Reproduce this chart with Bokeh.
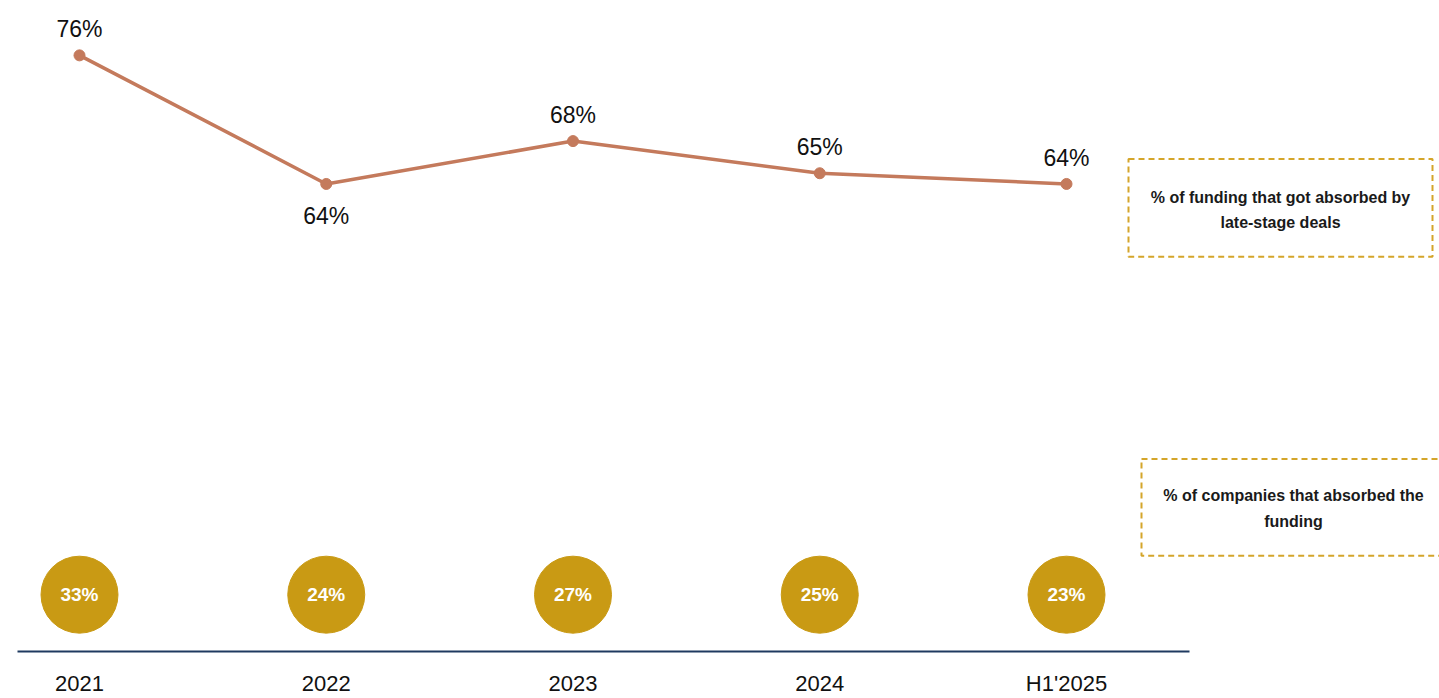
from bokeh.plotting import figure
from bokeh.models import Range1d, LinearAxis, FixedTicker, ColumnDataSource
from bokeh.core.properties import value
from bokeh.embed import file_html
from bokeh.resources import INLINE

# ---- data ----
categories = ["2021", "2022", "2023", "2024", "H1'2025"]
late_stage_funding_share = [76, 64, 68, 65, 64]
companies_share = [33, 24, 27, 25, 23]
label_side = ["above", "below", "above", "above", "above"]
note_texts = ["% of funding that got absorbed by\nlate-stage deals",
              "% of companies that absorbed the\nfunding"]

# ---- style ----
LINE_C = "#c47a5c"
GOLD = "#c99a14"
BOX_C = "#d4a52a"
FONT = value("Liberation Sans")

W, H = 1439, 698
FRAME_H = 653
STEP = 246.75
X0 = 79.0

xs = list(range(len(categories)))

p = figure(width=W, height=H, output_backend="svg", toolbar_location=None,
           x_range=Range1d(-X0 / STEP, (W - X0) / STEP),
           y_range=Range1d(20.37, 81.12),
           x_axis_location=None, y_axis_location=None,
           min_border_left=0, min_border_right=0, min_border_top=0,
           min_border_bottom=H - FRAME_H)
p.outline_line_color = None
p.grid.grid_line_color = None
p.background_fill_color = "white"
p.border_fill_color = "white"

p.extra_x_ranges = {"px": Range1d(0, W)}
p.extra_y_ranges = {"pix": Range1d(FRAME_H, 0)}

ax = LinearAxis(ticker=FixedTicker(ticks=xs),
                major_label_overrides={i: c for i, c in enumerate(categories)},
                bounds=(-0.25, 4.5),
                axis_line_color="#1f3a60", axis_line_width=2,
                major_tick_line_color=None, minor_tick_line_color=None,
                major_tick_in=0, major_tick_out=0,
                minor_tick_in=0, minor_tick_out=0,
                major_label_standoff=19,
                major_label_text_font="Liberation Sans",
                major_label_text_font_size="22px",
                major_label_text_color="#111111")
p.add_layout(ax, "below")

# line series
p.line(xs, late_stage_funding_share, line_color=LINE_C, line_width=3.5)
p.scatter(xs, late_stage_funding_share, size=11, fill_color=LINE_C, line_color=LINE_C)

above = ColumnDataSource(dict(
    x=[x for x, s in zip(xs, label_side) if s == "above"],
    y=[v for v, s in zip(late_stage_funding_share, label_side) if s == "above"],
    t=[f"{v}%" for v, s in zip(late_stage_funding_share, label_side) if s == "above"]))
below = ColumnDataSource(dict(
    x=[x for x, s in zip(xs, label_side) if s == "below"],
    y=[v for v, s in zip(late_stage_funding_share, label_side) if s == "below"],
    t=[f"{v}%" for v, s in zip(late_stage_funding_share, label_side) if s == "below"]))
p.text(x="x", y="y", text="t", source=above, text_align="center",
       text_baseline="bottom", y_offset=-13, text_font=FONT,
       text_font_size="23px", text_color="#111111")
p.text(x="x", y="y", text="t", source=below, text_align="center",
       text_baseline="top", y_offset=19, text_font=FONT,
       text_font_size="23px", text_color="#111111")

# bubbles
bub = ColumnDataSource(dict(x=xs, y=[596] * len(xs),
                            t=[f"{v}%" for v in companies_share]))
p.scatter(x="x", y="y", source=bub, y_range_name="pix", size=77,
          fill_color=GOLD, line_color=GOLD)
p.text(x="x", y="y", text="t", source=bub, y_range_name="pix",
       text_align="center", text_baseline="middle", text_font=FONT,
       text_font_style="bold", text_font_size="19px", text_color="white")

# note boxes
boxes = ColumnDataSource(dict(x=[1280, 1300], y=[208, 508.5], w=[304, 318],
                              h=[98, 97], tx=[1280, 1293], ty=[210, 509.5],
                              t=note_texts))
p.rect(x="x", y="y", width="w", height="h", source=boxes,
       x_range_name="px", y_range_name="pix", fill_color=None,
       line_color=BOX_C, line_width=2, line_dash="6 4")
p.text(x="tx", y="ty", text="t", source=boxes, x_range_name="px",
       y_range_name="pix", text_align="center", text_baseline="middle",
       text_font=FONT, text_font_style="bold", text_font_size="16px",
       text_line_height=1.5, text_color="#1a1a1a")

open("out.html", "w").write(file_html(p, INLINE))
